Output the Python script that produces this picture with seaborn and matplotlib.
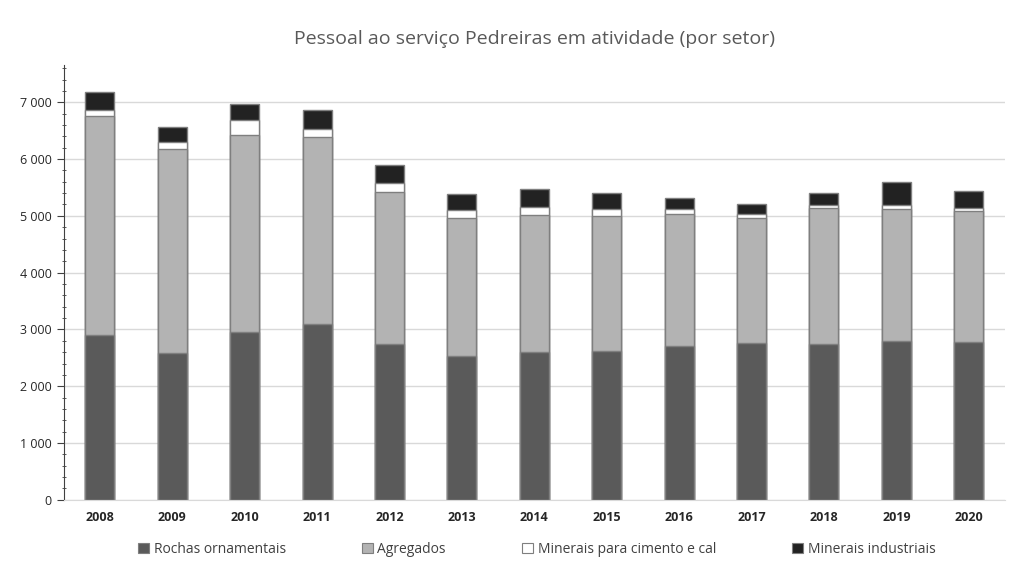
import numpy as np
import pandas as pd
import matplotlib.pyplot as plt
import matplotlib.ticker as mticker
from matplotlib.patches import Patch
import seaborn as sns

# values
anos = ['2008', '2009', '2010', '2011', '2012', '2013', '2014',
        '2015', '2016', '2017', '2018', '2019', '2020']
rochas = [2900, 2590, 2960, 3100, 2740, 2530, 2610, 2620, 2700, 2760, 2740, 2800, 2780]
agregados = [3850, 3590, 3470, 3290, 2680, 2430, 2410, 2380, 2340, 2200, 2390, 2320, 2300]
cimento = [120, 120, 260, 140, 150, 140, 130, 120, 80, 80, 65, 70, 65]
industriais = [310, 270, 280, 330, 330, 290, 320, 290, 200, 175, 205, 400, 300]

setores = ['Rochas ornamentais', 'Agregados', 'Minerais para cimento e cal', 'Minerais industriais']
cores = ['#5a5a5a', '#b3b3b3', '#ffffff', '#222222']

df = pd.DataFrame({'ano': anos, setores[0]: rochas, setores[1]: agregados,
                   setores[2]: cimento, setores[3]: industriais})
cum = df[setores].cumsum(axis=1)

sns.set_style('white')
plt.rcParams['font.family'] = ['Open Sans', 'DejaVu Sans']

fig = plt.figure(figsize=(10.09, 5.68), dpi=100)
ax = fig.add_axes([0.063, 0.12, 0.933, 0.765])

# draw cumulative totals from the top down so each layer covers the next
for s, c in zip(reversed(setores), reversed(cores)):
    sns.barplot(x=df['ano'], y=cum[s], color=c, width=0.4, ax=ax,
                edgecolor='#7f7f7f', linewidth=1.0, saturation=1)

ax.set_ylim(0, 7650)
ax.set_xlim(-0.5, 12.5)
ax.yaxis.set_major_locator(mticker.MultipleLocator(1000))
ax.yaxis.set_minor_locator(mticker.MultipleLocator(200))
ax.yaxis.set_major_formatter(mticker.FuncFormatter(lambda v, p: f'{int(v):,}'.replace(',', ' ')))
ax.grid(axis='y', which='major', color='#d9d9d9', linewidth=1)
ax.set_axisbelow(True)

for sp in ['top', 'right']:
    ax.spines[sp].set_visible(False)
ax.spines['left'].set_color('#404040')
ax.spines['bottom'].set_color('#d9d9d9')

ax.tick_params(axis='y', which='major', left=True, length=5, width=0.8, color='#404040',
               labelsize=9, labelcolor='#262626')
ax.tick_params(axis='y', which='minor', left=True, length=3, width=0.6, color='#404040',
               direction='inout')
ax.tick_params(axis='x', length=0, labelsize=9, labelcolor='#262626', pad=8)
for lab in ax.get_xticklabels():
    lab.set_fontweight('bold')

ax.set_xlabel('')
ax.set_ylabel('')
ax.set_title('Pessoal ao serviço Pedreiras em atividade (por setor)',
             fontsize=14, color='#595959', pad=15)

handles = [Patch(facecolor=c, edgecolor='#7f7f7f', linewidth=0.8) for c in cores]
fig.legend(handles, setores, loc='center', bbox_to_anchor=(0.532, 0.033), ncol=4,
           frameon=False, fontsize=10, handlelength=0.8, handleheight=0.8,
           handletextpad=0.3, columnspacing=5.5, labelcolor='#404040')

fig.savefig('out.png', dpi=100)
